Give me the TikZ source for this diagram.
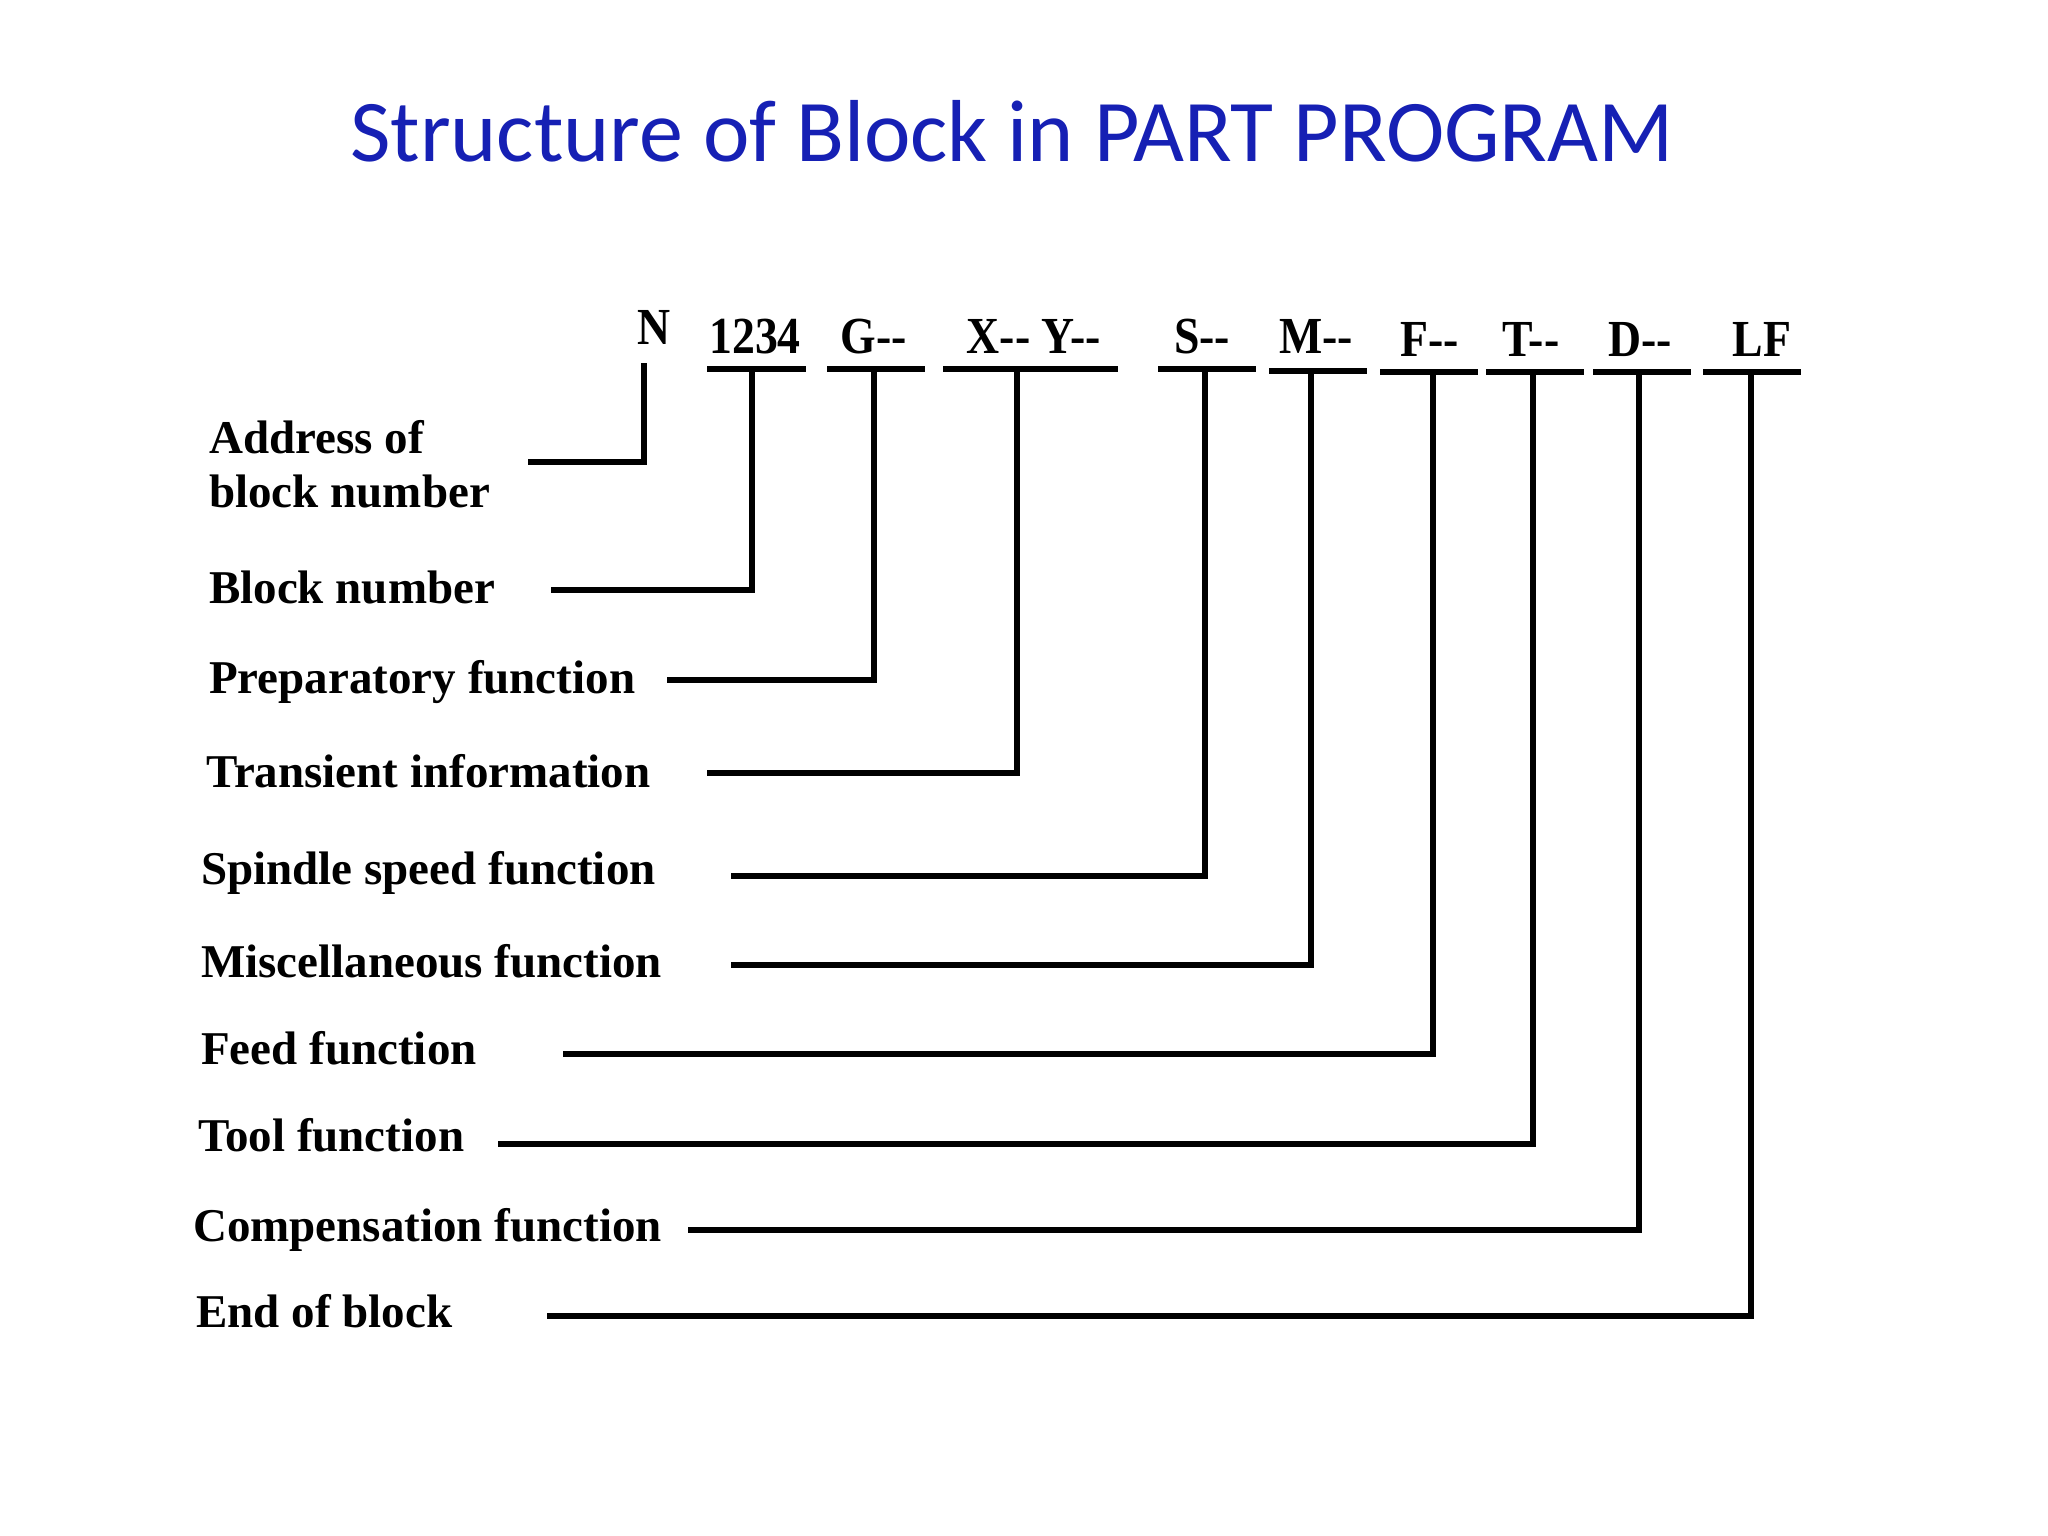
\documentclass[tikz,border=0pt]{standalone}
\usepackage{fontspec}
\setmainfont{Liberation Serif}
\newfontfamily\titlefont{Carlito}
\definecolor{titleblue}{RGB}{22,32,180}
\begin{document}
\begin{tikzpicture}[x=1pt,y=-1pt,
  lbl/.style={anchor=base west, inner sep=0pt, font=\fontsize{47}{52}\selectfont\bfseries},
  hdr/.style={anchor=base, inner sep=0pt, font=\fontsize{52}{56}\selectfont\bfseries},
  conn/.style={line width=5.5pt},
  bar/.style={line width=6.5pt}]
\useasboundingbox (0,0) rectangle (2048,1536);
% title
\node[anchor=base, inner sep=0pt, text=titleblue, font=\titlefont\fontsize{88}{92}\selectfont] (title) at (1012,161) {Structure of Block in PART PROGRAM};
% header codes
\node[hdr] (hN)  at (654,344) {\scalebox{0.88}[1]{N}};
\node[hdr] (h1)  at (755,353) {\scalebox{0.88}[1]{1234}};
\node[hdr] (hG)  at (874,353) {\scalebox{0.88}[1]{G-{}-}};
\node[hdr] (hXY) at (1034,353) {\scalebox{0.88}[1]{X-{}- Y-{}-}};
\node[hdr] (hS)  at (1202,353) {\scalebox{0.88}[1]{S-{}-}};
\node[hdr] (hM)  at (1316,353) {\scalebox{0.88}[1]{M-{}-}};
\node[hdr] (hF)  at (1430,356) {\scalebox{0.88}[1]{F-{}-}};
\node[hdr] (hT)  at (1531,356) {\scalebox{0.88}[1]{T-{}-}};
\node[hdr] (hD)  at (1640,356) {\scalebox{0.88}[1]{D-{}-}};
\node[hdr] (hLF) at (1762,356) {\scalebox{0.88}[1]{LF}};
% bars under codes
\draw[bar] (707,369) -- (806,369);
\draw[bar] (827,369) -- (925,369);
\draw[bar] (943,369) -- (1118,369);
\draw[bar] (1158,369) -- (1256,369);
\draw[bar] (1269,371) -- (1367,371);
\draw[bar] (1380,372) -- (1478,372);
\draw[bar] (1486,372) -- (1584,372);
\draw[bar] (1593,372) -- (1691,372);
\draw[bar] (1703,372) -- (1801,372);
% bar attachment points
\coordinate (bN)  at (644,363);
\coordinate (b1)  at (752,369);
\coordinate (bG)  at (874,369);
\coordinate (bXY) at (1017,369);
\coordinate (bS)  at (1205,369);
\coordinate (bM)  at (1311,371);
\coordinate (bF)  at (1433,372);
\coordinate (bT)  at (1533,372);
\coordinate (bD)  at (1639,372);
\coordinate (bLF) at (1751,372);
% labels
\node[lbl] (lA1) at (209,453) {Address of};
\node[lbl] (lA2) at (209,507) {block number};
\node[lbl] (l1)  at (209,603) {Block number};
\node[lbl] (lG)  at (209,693) {Preparatory function};
\node[lbl] (lXY) at (206,787) {Transient information};
\node[lbl] (lS)  at (201,884) {Spindle speed function};
\node[lbl] (lM)  at (201,977) {Miscellaneous function};
\node[lbl] (lF)  at (201,1064) {Feed function};
\node[lbl] (lT)  at (198,1151) {Tool function};
\node[lbl] (lD)  at (193,1241) {Compensation function};
\node[lbl] (lLF) at (196,1327) {End of block};
% connector start points
\coordinate (cN)  at (528,462);
\coordinate (c1)  at (551,590);
\coordinate (cG)  at (667,680);
\coordinate (cXY) at (707,773);
\coordinate (cS)  at (731,876);
\coordinate (cM)  at (731,965);
\coordinate (cF)  at (563,1054);
\coordinate (cT)  at (498,1144);
\coordinate (cD)  at (688,1230);
\coordinate (cLF) at (547,1316);
% connectors
\draw[conn] (cN)  -| (bN);
\draw[conn] (c1)  -| (b1);
\draw[conn] (cG)  -| (bG);
\draw[conn] (cXY) -| (bXY);
\draw[conn] (cS)  -| (bS);
\draw[conn] (cM)  -| (bM);
\draw[conn] (cF)  -| (bF);
\draw[conn] (cT)  -| (bT);
\draw[conn] (cD)  -| (bD);
\draw[conn] (cLF) -| (bLF);
\end{tikzpicture}
\end{document}
